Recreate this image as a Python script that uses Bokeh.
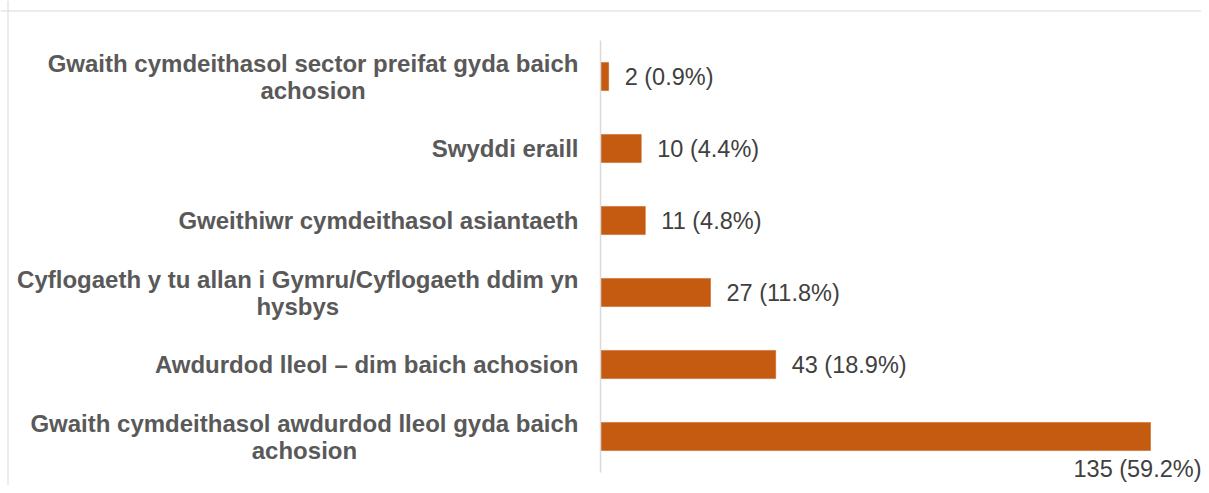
from bokeh.plotting import figure
from bokeh.models import ColumnDataSource, Range1d, Span
from bokeh.core.properties import value
from bokeh.embed import file_html
from bokeh.resources import INLINE

# Data (top to bottom as shown)
categories = [
    "Gwaith cymdeithasol sector preifat gyda baich\nachosion",
    "Swyddi eraill",
    "Gweithiwr cymdeithasol asiantaeth",
    "Cyflogaeth y tu allan i Gymru/Cyflogaeth ddim yn\nhysbys",
    "Awdurdod lleol \u2013 dim baich achosion",
    "Gwaith cymdeithasol awdurdod lleol gyda baich\nachosion",
]
counts = [2, 10, 11, 27, 43, 135]
percents = [0.9, 4.4, 4.8, 11.8, 18.9, 59.2]

W, H = 1201, 485
axis_x = 600          # pixel position of the value axis inside the figure
ppu = 550 / 135       # pixels per unit
row_px = 72
top_row_px = 76

n = len(categories)
ys = [n - 1 - i for i in range(n)]
labels = [f"{c} ({p}%)" for c, p in zip(counts, percents)]

p = figure(width=W, height=H, output_backend="svg", toolbar_location=None,
           min_border=0, x_axis_type=None, y_axis_type=None)
p.x_range = Range1d(-axis_x / ppu, (W - axis_x) / ppu)
y_top = (n - 1) + top_row_px / row_px
p.y_range = Range1d(y_top - H / row_px, y_top)
p.outline_line_color = None
p.grid.visible = False
p.background_fill_color = "white"
p.border_fill_color = "white"

# chart border (top/left visible)
p.add_layout(Span(location=7.5, dimension="height", location_units="screen",
                  line_color="#d9d9d9", line_width=1))
p.add_layout(Span(location=H - 10.5, dimension="width", location_units="screen",
                  line_color="#d9d9d9", line_width=1))

src = ColumnDataSource(dict(y=ys, v=counts, cat=categories, lab=labels))

p.hbar(y="y", left=0, right="v", height=0.39, source=src,
       fill_color="#C55A11", line_color="#C55A11", line_width=0.5)

# value axis line
p.segment(x0=[0], y0=[-0.5], x1=[0], y1=[n - 0.5], line_color="#d9d9d9", line_width=1.5)

# category labels
p.text(x=0, y="y", text="cat", source=src, x_offset=-22,
       text_align="center", anchor="center_right", text_baseline="middle",
       text_font=value("Liberation Sans"), text_font_style="bold",
       text_font_size="24px", text_color="#595959", text_line_height=1.0)

# data labels
vmax = max(counts)
in_x, in_y, in_t = [], [], []
out_x, out_y, out_t = [], [], []
for c, y, t in zip(counts, ys, labels):
    if c == vmax:
        out_x.append(c); out_y.append(y); out_t.append(t)
    else:
        in_x.append(c); in_y.append(y); in_t.append(t)

p.text(x=in_x, y=in_y, text=in_t, x_offset=16, text_align="left",
       text_baseline="middle", text_font=value("Liberation Sans"),
       text_font_size="23.5px", text_color="#404040")
p.text(x=out_x, y=out_y, text=out_t, x_offset=-13, y_offset=32,
       text_align="center", text_baseline="middle",
       text_font=value("Liberation Sans"),
       text_font_size="23.5px", text_color="#404040")

open("out.html", "w").write(file_html(p, INLINE))
